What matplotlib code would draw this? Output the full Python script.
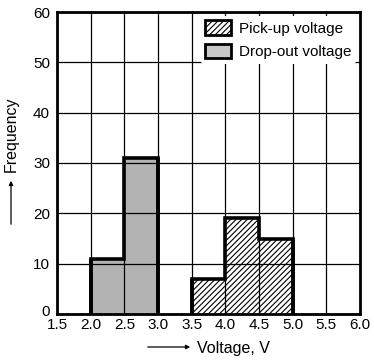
import matplotlib
matplotlib.use("Agg")
import matplotlib.pyplot as plt
from matplotlib.patches import Patch, FancyArrowPatch
from matplotlib.transforms import ScaledTranslation

plt.rcParams['font.family'] = ['Liberation Sans', 'DejaVu Sans']
plt.rcParams['hatch.linewidth'] = 0.8

# Data
dropout_edges = [2.0, 2.5, 3.0]
dropout_counts = [11, 31]
pickup_edges = [3.5, 4.0, 4.5, 5.0]
pickup_counts = [7, 19, 15]
xticks = [1.5, 2.0, 2.5, 3.0, 3.5, 4.0, 4.5, 5.0, 5.5, 6.0]
yticks = [0, 10, 20, 30, 40, 50, 60]

fig = plt.figure(figsize=(3.74, 3.6), dpi=100)
ax = fig.add_axes([57/374, 1-314/360, (360-57)/374, (314-12)/360])

ax.stairs(dropout_counts, dropout_edges, fill=True, facecolor='#b3b3b3', edgecolor='none', zorder=1)
ax.stairs(pickup_counts, pickup_edges, fill=True, facecolor='white', edgecolor='black', hatch='//////', linewidth=0, zorder=1)
ax.grid(True, color='black', linewidth=0.9, zorder=2)
ax.set_axisbelow(False)
ax.stairs(dropout_counts, dropout_edges, baseline=0, fill=False, edgecolor='black', linewidth=2.6, zorder=3)
ax.stairs(pickup_counts, pickup_edges, baseline=0, fill=False, edgecolor='black', linewidth=2.6, zorder=3)
for edges, counts in [(dropout_edges, dropout_counts), (pickup_edges, pickup_counts)]:
    ax.vlines([edges[0], edges[-1]], 0, [counts[0], counts[-1]], color='black', linewidth=2.6, zorder=3)

ax.set_xlim(1.5, 6.0)
ax.set_ylim(0, 60)
ax.set_xticks(xticks)
ax.set_xticklabels([f"{v:.1f}" for v in xticks])
ax.set_yticks(yticks)
ax.tick_params(length=0, labelsize=11, pad=3)
ax.tick_params(axis='y', pad=5)
ylab0 = ax.get_yticklabels()[0]
ylab0.set_transform(ylab0.get_transform() + ScaledTranslation(0, 4/100, fig.dpi_scale_trans))
for s in ax.spines.values():
    s.set_linewidth(2)
    s.set_zorder(4)

handles = [Patch(facecolor='white', edgecolor='black', hatch='//////', linewidth=2),
           Patch(facecolor='#c8c8c8', edgecolor='black', linewidth=2)]
leg = ax.legend(handles, ['Pick-up voltage', 'Drop-out voltage'], loc='upper right',
                frameon=True, fontsize=11, handlelength=1.7, handleheight=1.1,
                handletextpad=0.5, labelspacing=0.5, borderaxespad=0.25, borderpad=0.3)
leg.get_frame().set_edgecolor('none')
leg.get_frame().set_facecolor('white')
leg.get_frame().set_alpha(1)
leg.set_zorder(5)

fig.text(197/374, 1-348/360, 'Voltage, V', fontsize=11.5, ha='left', va='center')
fig.add_artist(FancyArrowPatch((145/374, 1-347/360), (193/374, 1-347/360),
               transform=fig.transFigure, arrowstyle='-|>', mutation_scale=6, linewidth=0.9, color='black'))
fig.text(11/374, 1-134/360, 'Frequency', fontsize=11.5, rotation=90, ha='center', va='center')
fig.add_artist(FancyArrowPatch((11/374, 1-227/360), (11/374, 1-178/360),
               transform=fig.transFigure, arrowstyle='-|>', mutation_scale=6, linewidth=0.9, color='black'))

fig.savefig('out.png', dpi=100)
